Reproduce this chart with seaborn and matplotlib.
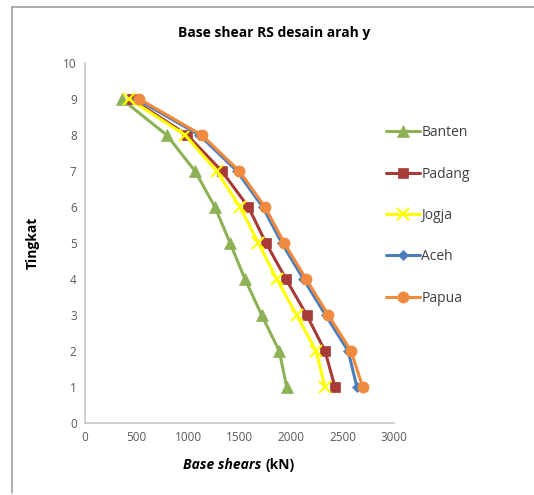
import matplotlib
matplotlib.use("Agg")
import matplotlib.pyplot as plt
import seaborn as sns
from matplotlib.lines import Line2D

floors = [1, 2, 3, 4, 5, 6, 7, 8, 9]
banten = [1958, 1886, 1715, 1553, 1408, 1262, 1068, 793, 356]
padang = [2427, 2330, 2152, 1951, 1757, 1586, 1327, 993, 453]
jogja = [2330, 2243, 2055, 1861, 1683, 1505, 1278, 971, 430]
aceh = [2640, 2555, 2335, 2120, 1910, 1725, 1475, 1110, 500]
papua = [2696, 2583, 2362, 2146, 1935, 1748, 1498, 1133, 527]
names = ["Banten", "Padang", "Jogja", "Aceh", "Papua"]
xticks = [0, 500, 1000, 1500, 2000, 2500, 3000]
yticks = list(range(0, 11))

sns.set_theme(style="white")
plt.rcParams['font.family'] = ['Open Sans', 'DejaVu Sans']

W, H = 534, 495
fig = plt.figure(figsize=(W / 100, H / 100), dpi=100)
ax = fig.add_axes([85 / W, 1 - 423 / H, (394 - 85) / W, (423 - 63) / H])

series = [banten, padang, jogja, aceh, papua]
colors = ["#8DB255", "#A83A38", "#FFFF00", "#4A7EBB", "#F08A3E"]
markers = ["^", "s", "x", "D", "o"]
msizes = [8, 7.5, 8, 5, 8]

for name, vals, c, m, ms in zip(names, series, colors, markers, msizes):
    sns.lineplot(x=vals, y=floors, sort=False, color=c, marker=m,
                 markersize=ms, mec=c, mfc=c, mew=1.5 if m == "x" else 0.5,
                 lw=2.2, label=name, ax=ax)

ax.set_xlim(0, 3000)
ax.set_ylim(0, 10)
ax.set_xticks(xticks)
ax.set_yticks(yticks)
ax.tick_params(axis="both", length=0, labelsize=8.5, labelcolor="#595959", pad=6)
for s in ["top", "right"]:
    ax.spines[s].set_visible(False)
for s in ["left", "bottom"]:
    ax.spines[s].set_color("#C8C8C8")
    ax.spines[s].set_linewidth(1.2)
ax.set_xlabel("")
ax.set_ylabel("Tingkat", fontsize=10, fontweight="bold", color="#000000", labelpad=17)

leg = ax.legend(loc="upper left", bbox_to_anchor=(0.935, 0.862), frameon=False,
                fontsize=10, labelspacing=1.9, handlelength=2.4, handletextpad=0.1)
for t in leg.get_texts():
    t.set_color("#404040")

fig.text(274 / W, 1 - 33 / H, "Base shear RS desain arah y", ha="center", va="center",
         fontsize=10, fontweight="bold", color="#000000")
fig.text(261 / W, 1 - 465 / H, "Base shears", ha="right", va="center",
         fontsize=10, fontweight="bold", fontstyle="italic", color="#000000")
fig.text(265 / W, 1 - 465 / H, "(kN)", ha="left", va="center",
         fontsize=10, fontweight="bold", color="#000000")

fig.add_artist(Line2D([12 / W, 1.0], [1 - 7 / H, 1 - 7 / H], color="#A0A0A0", lw=1.2))
fig.add_artist(Line2D([12 / W, 12 / W], [1 - 7 / H, 1 - 493 / H], color="#A0A0A0", lw=1.2))

fig.savefig("out.png", dpi=100)
